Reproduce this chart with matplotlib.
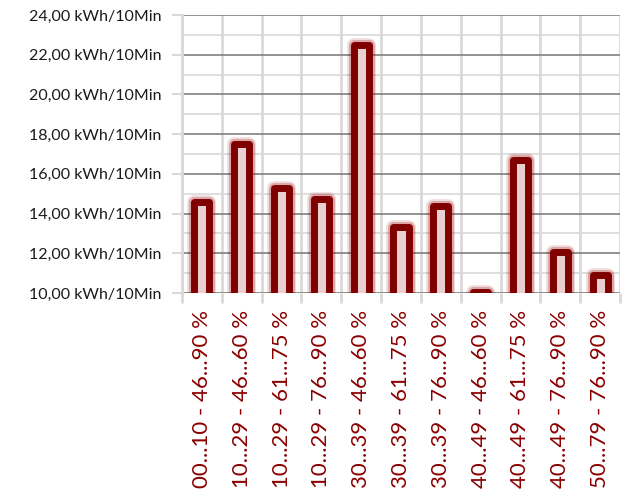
import matplotlib
matplotlib.use("Agg")
import matplotlib.pyplot as plt
import matplotlib.patheffects as pe
from matplotlib.ticker import MultipleLocator, FixedLocator

categories = ["00...10 - 46...90 %", "10...29 - 46...60 %", "10...29 - 61...75 %",
              "10...29 - 76...90 %", "30...39 - 46...60 %", "30...39 - 61...75 %",
              "30...39 - 76...90 %", "40...49 - 46...60 %", "40...49 - 61...75 %",
              "40...49 - 76...90 %", "50...79 - 76...90 %"]
values = [14.6, 17.5, 15.3, 14.75, 22.5, 13.3, 14.4, 10.05, 16.7, 12.07, 10.93]
y_ticks = [10, 12, 14, 16, 18, 20, 22, 24]
y_tick_labels = ["%d,00 kWh/10Min" % v for v in y_ticks]

plt.rcParams['font.family'] = ['Lato', 'DejaVu Sans']

fig = plt.figure(figsize=(6.26, 4.95), dpi=100)
ax = fig.add_axes([182/626, 1-293/495, (620-182)/626, (293-15)/495])

x = list(range(len(categories)))
bars = ax.bar(x, values, bottom=0, width=0.38,
              color='#e8d0d0', edgecolor='#800000', linewidth=5.0, zorder=3)
for b in bars:
    b.set_joinstyle('round')
    b.set_path_effects([
        pe.Stroke(linewidth=10, foreground=(0.6, 0.0, 0.0, 0.12)),
        pe.Stroke(linewidth=8, foreground=(0.6, 0.0, 0.0, 0.25)),
        pe.Normal()])

ax.set_xlim(-0.5, len(categories) - 0.5)
ax.set_ylim(10, 24)

ax.yaxis.set_major_locator(FixedLocator(y_ticks))
ax.set_yticklabels(y_tick_labels, fontsize=11.5, color='#1a1a1a')
ax.yaxis.set_minor_locator(MultipleLocator(1))
ax.set_xticks(x)
ax.set_xticklabels(categories, rotation=90, fontsize=16, color='#8B0000')
ax.xaxis.set_minor_locator(FixedLocator([i - 0.5 for i in range(len(categories) + 1)]))

ax.tick_params(axis='x', which='major', length=0, pad=12)
ax.tick_params(axis='x', which='minor', length=7, color='#d9d9d9', width=2)
ax.tick_params(axis='y', which='major', length=7, color='#d9d9d9', width=1.5, pad=8)
ax.tick_params(axis='y', which='minor', length=0)

ax.grid(axis='y', which='major', color='#808080', linewidth=1.2, zorder=0)
ax.grid(axis='y', which='minor', color='#d9d9d9', linewidth=1.2, zorder=0)
ax.grid(axis='x', which='minor', color='#d9d9d9', linewidth=2, zorder=0)
ax.grid(axis='x', which='major', visible=False)
ax.set_axisbelow(True)

for s in ['top', 'right', 'bottom']:
    ax.spines[s].set_visible(False)
ax.spines['left'].set_color('#d9d9d9')
ax.spines['left'].set_linewidth(2)

fig.savefig("out.png", dpi=100)
